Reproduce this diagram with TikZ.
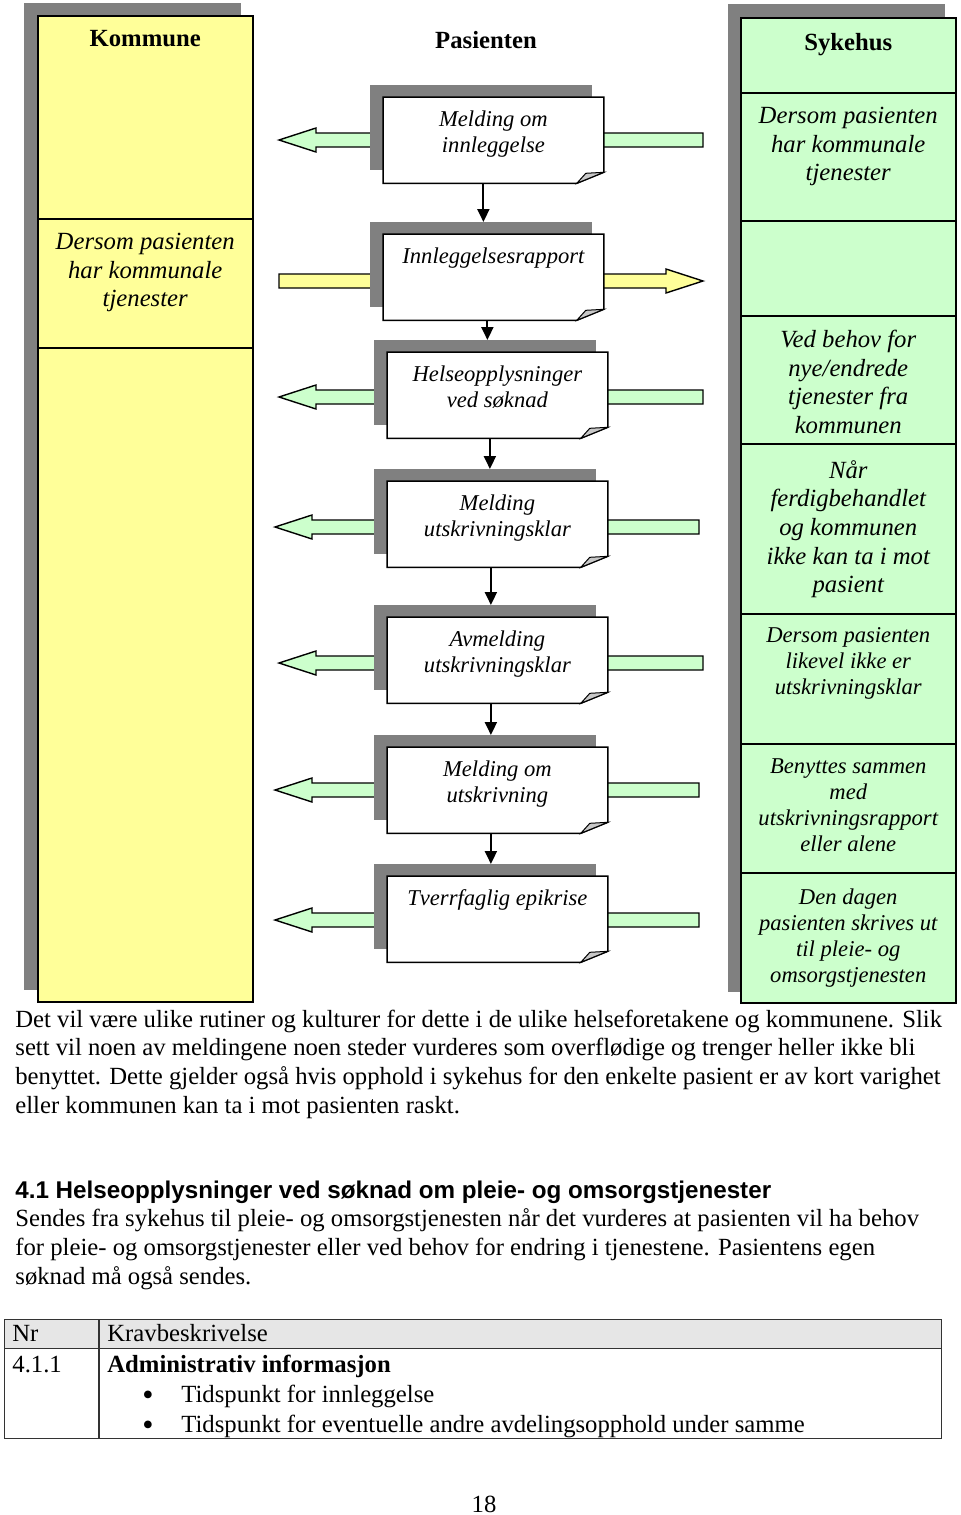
\documentclass[tikz,border=0pt]{standalone}
\usepackage{fontspec}
\setmainfont{Liberation Serif}
\newfontfamily\sanshead{Liberation Sans}
\usetikzlibrary{arrows.meta,calc}
\pgfdeclarelayer{bglayer}
\pgfdeclarelayer{arrowlayer}
\pgfdeclarelayer{shadowlayer}
\pgfdeclarelayer{doclayer}
\pgfsetlayers{bglayer,arrowlayer,shadowlayer,doclayer,main}
\definecolor{kyellow}{HTML}{FFFF99}
\definecolor{sgreen}{HTML}{CCFFCC}
\definecolor{shadowgray}{HTML}{808080}
\definecolor{foldgray}{HTML}{C8C8C8}
\definecolor{tablehead}{HTML}{E6E6E6}
\newcommand\fbig{\fontsize{12.35pt}{14.3pt}\selectfont}
\newcommand\fsmall{\fontsize{11.3pt}{13pt}\selectfont}
\newcommand\blockarrow[5]{%
  \begin{pgfonlayer}{arrowlayer}
  \filldraw[blockline, fill=#4] (#3,#1-7) -- (#2#5,#1-7) -- (#2#5,#1-12) -- (#2,#1) -- (#2#5,#1+12) -- (#2#5,#1+7) -- (#3,#1+7) -- cycle;
  \end{pgfonlayer}}
\newcommand\docshape[1]{%
  \begin{pgfonlayer}{shadowlayer}
   \fill[shadowgray] ($(#1.north west)+(-13,-12)$) rectangle ($(#1.south east)+(-12,-13)$);
  \end{pgfonlayer}
  \begin{pgfonlayer}{doclayer}
   \filldraw[docline, fill=white] (#1.north west) -- (#1.north east) -- ($(#1.south east)+(0,-11)$) -- ($(#1.south east)+(-27,0)$) -- (#1.south west) -- cycle;
   \filldraw[foldline, fill=foldgray] ($(#1.south east)+(-27,0)$) -- ($(#1.south east)+(-18,-10)$) -- ($(#1.south east)+(0,-11)$) -- cycle;
  \end{pgfonlayer}}
\begin{document}
\begin{tikzpicture}[x=0.5pt,y=-0.5pt,
  blockline/.style={draw=black, line width=0.7pt, line join=miter},
  docline/.style={draw=black, line width=0.75pt},
  foldline/.style={draw=black, line width=0.5pt},
  colbox/.style={draw=black, line width=0.75pt, anchor=north west, inner sep=0pt, minimum width=107.5pt},
  kcell/.style={colbox, fill=kyellow},
  hcell/.style={colbox, fill=sgreen},
  celltext/.style={align=center, inner sep=0pt, anchor=north, font=\fbig\itshape},
  smalltext/.style={align=center, inner sep=0pt, anchor=north, font=\fsmall\itshape},
  titletext/.style={inner sep=0pt, anchor=north, font=\fbig\bfseries},
  docbox/.style={anchor=north west, inner sep=0pt, minimum width=110pt, minimum height=42.75pt},
  doctext/.style={align=center, inner sep=0pt, anchor=north, font=\fsmall\itshape},
  conn/.style={draw=black, line width=1pt, -{Triangle[width=6pt,length=6.5pt]}},
  bodytext/.style={align=left, inner sep=0pt, anchor=base west, font=\fbig},
  bullettext/.style={inner sep=0pt, anchor=base west, font=\fontsize{16pt}{16pt}\selectfont},
  tabline/.style={draw=black!80, line width=0.6pt},
]
\begin{pgfonlayer}{bglayer}
\fill[white] (0,0) rectangle (960,1515);
\end{pgfonlayer}
\useasboundingbox (0,0) rectangle (960,1515);

% Kommune column
\node[kcell, minimum height=101.5pt] (k1) at (37,15) {};
\node[kcell, minimum height=64.5pt] (k2) at (37,218) {};
\node[kcell, minimum height=327pt] (k3) at (37,347) {};
\begin{pgfonlayer}{shadowlayer}
\fill[shadowgray] ($(k1.north west)+(-13,-12)$) rectangle ($(k3.south east)+(-13,-13)$);
\end{pgfonlayer}
\node[titletext] (kt) at ($(k1.north)+(0,15)$) {Kommune};
\node[celltext] (k2t) at ($(k2.north)+(0,15)$) {Dersom pasienten\\har kommunale\\tjenester};

% Pasienten title
\node[titletext] (pt) at (486,31) {Pasienten};

% Sykehus column
\node[hcell, minimum height=37.5pt] (h1) at (740,17) {};
\node[hcell, minimum height=64pt] (h2) at (740,92) {};
\node[hcell, minimum height=47.5pt] (h3) at (740,220) {};
\node[hcell, minimum height=64pt] (h4) at (740,315) {};
\node[hcell, minimum height=85pt] (h5) at (740,443) {};
\node[hcell, minimum height=65pt] (h6) at (740,613) {};
\node[hcell, minimum height=64.5pt] (h7) at (740,743) {};
\node[hcell, minimum height=65pt] (h8) at (740,872) {};
\begin{pgfonlayer}{shadowlayer}
\fill[shadowgray] ($(h1.north west)+(-12,-13)$) rectangle ($(h8.south east)+(-12,-12)$);
\end{pgfonlayer}
\node[titletext] (ht1) at ($(h1.north)+(0,16)$) {Sykehus};
\node[celltext] (ht2) at ($(h2.north)+(0,15)$) {Dersom pasienten\\har kommunale\\tjenester};
\node[celltext] (ht4) at ($(h4.north)+(0,15)$) {Ved behov for\\nye/endrede\\tjenester fra\\kommunen};
\node[celltext] (ht5) at ($(h5.north)+(0,17)$) {Når\\ferdigbehandlet\\og kommunen\\ikke kan ta i mot\\pasient};
\node[smalltext] (ht6) at ($(h6.north)+(0,14)$) {Dersom pasienten\\likevel ikke er\\utskrivningsklar};
\node[smalltext] (ht7) at ($(h7.north)+(0,15)$) {Benyttes sammen\\med\\utskrivningsrapport\\eller alene};
\node[smalltext] (ht8) at ($(h8.north)+(0,16)$) {Den dagen\\pasienten skrives ut\\til pleie- og\\omsorgstjenesten};

% Documents
\node[docbox] (d1) at (383,97) {};
\node[docbox] (d2) at (383,234) {};
\node[docbox] (d3) at (387,352) {};
\node[docbox] (d4) at (387,481) {};
\node[docbox] (d5) at (387,617) {};
\node[docbox] (d6) at (387,747) {};
\node[docbox] (d7) at (387,876) {};
\docshape{d1}\docshape{d2}\docshape{d3}\docshape{d4}\docshape{d5}\docshape{d6}\docshape{d7}
\node[doctext] (dt1) at ($(d1.north)+(0,13)$) {Melding om\\innleggelse};
\node[doctext] (dt2) at ($(d2.north)+(0,13)$) {Innleggelsesrapport};
\node[doctext] (dt3) at ($(d3.north)+(0,13)$) {Helseopplysninger\\ved søknad};
\node[doctext] (dt4) at ($(d4.north)+(0,13)$) {Melding\\utskrivningsklar};
\node[doctext] (dt5) at ($(d5.north)+(0,13)$) {Avmelding\\utskrivningsklar};
\node[doctext] (dt6) at ($(d6.north)+(0,13)$) {Melding om\\utskrivning};
\node[doctext] (dt7) at ($(d7.north)+(0,13)$) {Tverrfaglig epikrise};

% Block arrows (behind documents)
\blockarrow{140}{279}{703}{sgreen}{+37}
\blockarrow{281}{703}{279}{kyellow}{-37}
\blockarrow{397}{279}{703}{sgreen}{+37}
\blockarrow{527}{275}{699}{sgreen}{+37}
\blockarrow{663}{279}{703}{sgreen}{+37}
\blockarrow{790}{275}{699}{sgreen}{+37}
\blockarrow{920}{275}{699}{sgreen}{+37}

% Vertical connectors
\coordinate (sh2) at ($(d2.north)+(0,-12)$);
\coordinate (sh3) at ($(d3.north)+(0,-12)$);
\coordinate (sh4) at ($(d4.north)+(0,-12)$);
\coordinate (sh5) at ($(d5.north)+(0,-12)$);
\coordinate (sh6) at ($(d6.north)+(0,-12)$);
\coordinate (sh7) at ($(d7.north)+(0,-12)$);
\coordinate (c12) at ($(d1.south)+(-10,0)$);
\coordinate (c23) at ($(d2.south)+(-6,0)$);
\coordinate (c34) at ($(d3.south)+(-7.5,0)$);
\coordinate (c45) at ($(d4.south)+(-6.5,0)$);
\coordinate (c56) at ($(d5.south)+(-6.5,0)$);
\coordinate (c67) at ($(d6.south)+(-6.5,0)$);
\draw[conn] (c12) -- (c12 |- sh2);
\draw[conn] (c23) -- (c23 |- sh3);
\draw[conn] (c34) -- (c34 |- sh4);
\draw[conn] (c45) -- (c45 |- sh5);
\draw[conn] (c56) -- (c56 |- sh6);
\draw[conn] (c67) -- (c67 |- sh7);

% Body text (base anchor = baseline of last line)
\node[bodytext] (p1) at (15,1113) {Det vil være ulike rutiner og kulturer for dette i de ulike helseforetakene og kommunene. Slik\\
sett vil noen av meldingene noen steder vurderes som overflødige og trenger heller ikke bli\\
benyttet. Dette gjelder også hvis opphold i sykehus for den enkelte pasient er av kort varighet\\
eller kommunen kan ta i mot pasienten raskt.};
\node[inner sep=0pt, anchor=base west, font=\sanshead\bfseries\fontsize{12.1pt}{14pt}\selectfont] (h41) at (15,1198) {4.1 Helseopplysninger ved søknad om pleie- og omsorgstjenester};
\node[bodytext] (p2) at (15,1284) {Sendes fra sykehus til pleie- og omsorgstjenesten når det vurderes at pasienten vil ha behov\\
for pleie- og omsorgstjenester eller ved behov for endring i tjenestene. Pasientens egen\\
søknad må også sendes.};

% Table
\node[draw=black!80, line width=0.6pt, fill=tablehead, anchor=north west, inner sep=0pt, minimum width=468.5pt, minimum height=14.5pt] (th) at (4,1319) {};
\node[draw=black!80, line width=0.6pt, anchor=north west, inner sep=0pt, minimum width=468.5pt, minimum height=45pt] (tb) at (4,1348) {};
\draw[tabline] ($(th.north west)+(95,0)$) -- ($(tb.south west)+(95,0)$);
\node[bodytext] (nr) at (12,1341) {Nr};
\node[bodytext] (kb) at (107,1341) {Kravbeskrivelse};
\node[bodytext] (n411) at (12,1372) {4.1.1};
\node[bodytext, font=\fbig\bfseries] (adm) at (107,1372) {Administrativ informasjon};
\node[bullettext] (b1) at (142,1405) {•};
\node[bodytext] (b1t) at (181,1402) {Tidspunkt for innleggelse};
\node[bullettext] (b2) at (142,1435) {•};
\node[bodytext] (b2t) at (181,1432) {Tidspunkt for eventuelle andre avdelingsopphold under samme};

% Page number
\node[inner sep=0pt, anchor=base, font=\fbig] (pg) at (484,1512) {18};
\end{tikzpicture}
\end{document}
